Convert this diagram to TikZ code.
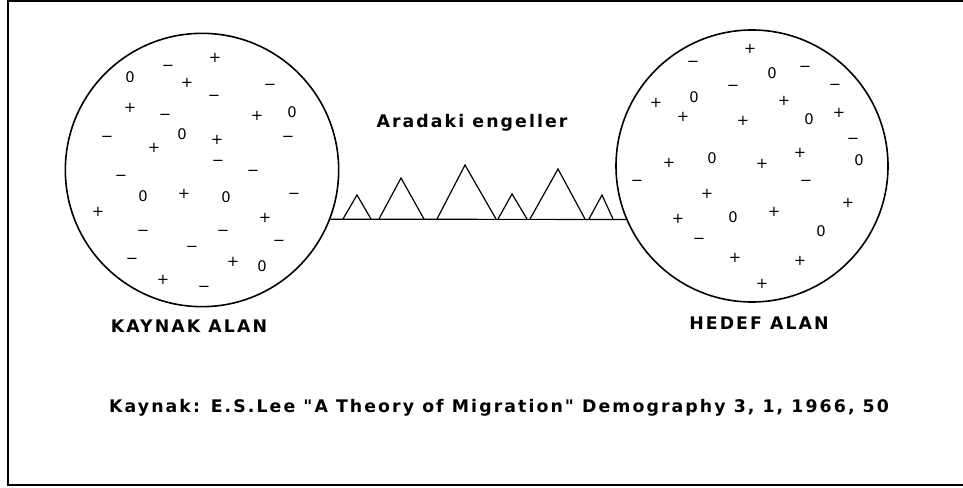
\documentclass[tikz,border=0pt]{standalone}
\usepackage{fontspec}
\setmainfont{DejaVu Sans}
\usepackage{tikz}
\usetikzlibrary{positioning}
\newfontfamily\lblfont[LetterSpace=12]{DejaVu Sans Bold}

\begin{document}
\begin{tikzpicture}[x=0.75pt,y=-0.75pt,
  area/.style={draw,circle,line width=1.2pt,inner sep=0pt},
  lbl/.style={font=\lblfont\fontsize{13}{15}\selectfont,inner sep=0pt},
  sgn/.style={font=\fontsize{11}{12}\selectfont,inner sep=0pt},
  peak/.style={line width=0.9pt,line join=miter}]

\useasboundingbox (0,0) rectangle (963,488);
\draw[line width=1.6pt] (963,1) -- (8,1) -- (8,485) -- (963,485);

% the two areas
\node[area,minimum size=205pt] (kaynak) at (202,170) {};
\node[area,minimum size=204pt] (hedef)  at (752,166) {};

% particles in the source area
\foreach \x/\y/\s [count=\i] in {130/77/0,168/68/−,215/58/+,187/83/+,270/87/−,
    214/98/−,130/108/+,165/117/−,257/116/+,292/112/0,107/139/−,154/148/+,
    182/134/0,217/140/+,288/139/−,218/163/−,253/173/−,121/178/−,143/196/0,
    184/194/+,226/197/0,294/196/−,98/212/+,265/218/+,143/233/−,223/233/−,
    279/243/−,192/249/−,132/261/−,233/262/+,262/266/0,163/280/+,204/289/−}
  \node[sgn] (k\i) at (\x,\y) {\s};

% particles in the destination area
\foreach \x/\y/\s [count=\i] in {750/49/+,693/64/−,772/73/0,805/69/−,733/88/−,
    835/87/−,656/103/+,694/97/0,784/101/+,683/117/+,743/121/+,809/119/0,
    839/113/+,853/141/−,669/163/+,712/158/0,762/164/+,800/153/+,859/160/0,
    637/183/−,806/183/−,707/194/+,848/203/+,733/217/0,774/212/+,678/219/+,
    821/231/0,699/241/−,735/258/+,800/261/+,762/284/+}
  \node[sgn] (h\i) at (\x,\y) {\s};

% obstacles
\draw[line width=0.9pt] (kaynak.-21) -- (hedef.203);
\foreach \a/\px/\py/\b in {343/357/195/371,379/401/178/424,437/465/165/496,
    498/512/194/527,530/558/169/585,589/602/195/613}
  \draw[peak] (\a,219) -- (\px,\py) -- (\b,219);

\node[lbl] (engel) at (472,123) {Aradaki engeller};
\node[lbl] (klbl) at (189,326) {KAYNAK ALAN};
\node[lbl] (hlbl) at (759,323) {HEDEF ALAN};
\node[lbl] (src) at (499,408) {Kaynak: E.S.Lee "A Theory of Migration" Demography 3, 1, 1966, 50};
\end{tikzpicture}
\end{document}
